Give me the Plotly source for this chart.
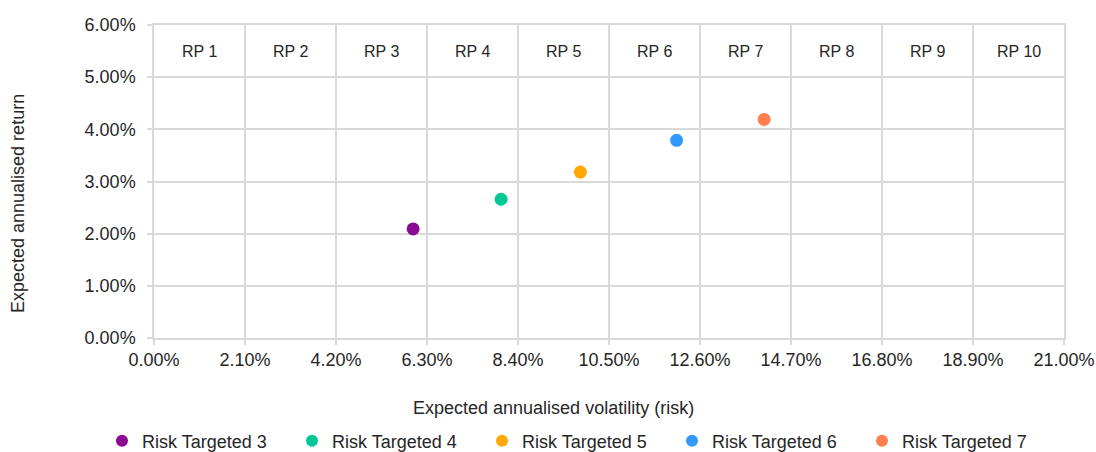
import plotly.graph_objects as go

series_names = ["Risk Targeted 3", "Risk Targeted 4", "Risk Targeted 5", "Risk Targeted 6", "Risk Targeted 7"]
volatility = [0.0598, 0.0801, 0.0984, 0.1206, 0.1408]
returns = [0.0209, 0.0266, 0.0318, 0.0379, 0.0419]
colors = ["#8B0A93", "#00C896", "#FFA800", "#3399FF", "#FF7F50"]
rp_labels = ["RP 1", "RP 2", "RP 3", "RP 4", "RP 5", "RP 6", "RP 7", "RP 8", "RP 9", "RP 10"]

FONT = "Liberation Sans, Arial, sans-serif"
TXT = "#262626"
GRID = "#D9D9D9"

W, H = 1096, 452
L, R, T, B = 154, 32, 25, 114
PW, PH = W - L - R, H - T - B

fig = go.Figure()
for name, xv, yv, c in zip(series_names, volatility, returns, colors):
    fig.add_trace(go.Scatter(x=[xv], y=[yv], mode="markers", name=name,
                             marker=dict(color=c, size=13, line=dict(width=0))))

band = 0.21 / len(rp_labels)
for i, lab in enumerate(rp_labels):
    fig.add_annotation(x=band * (i + 0.5), y=0.055, xref="x", yref="y", text=lab,
                       showarrow=False, font=dict(family=FONT, size=16, color=TXT))

fig.add_annotation(x=(553 - L) / PW, y=-(408 - (H - B)) / PH, xref="paper", yref="paper",
                   text="Expected annualised volatility (risk)", showarrow=False,
                   xanchor="center", yanchor="middle", font=dict(family=FONT, size=18, color=TXT))
fig.add_annotation(x=(18 - L) / PW, y=((H - B) - 204) / PH, xref="paper", yref="paper",
                   text="Expected annualised return", showarrow=False, textangle=-90,
                   xanchor="center", yanchor="middle", font=dict(family=FONT, size=18, color=TXT))

fig.update_layout(
    width=W, height=H,
    margin=dict(l=L, r=R, t=T, b=B, autoexpand=False),
    paper_bgcolor="white", plot_bgcolor="white",
    font=dict(family=FONT, size=18, color=TXT),
    showlegend=True,
    legend=dict(orientation="h", x=(102 - L) / PW, xanchor="left",
                y=-(441 - (H - B)) / PH, yanchor="middle",
                entrywidth=145, entrywidthmode="pixels",
                font=dict(family=FONT, size=18, color=TXT),
                itemsizing="constant", bgcolor="rgba(0,0,0,0)"),
    xaxis=dict(range=[0, 0.21], dtick=0.021, tick0=0, tickformat=".2%",
               showgrid=True, gridcolor=GRID, gridwidth=1.5,
               showline=True, linecolor=GRID, linewidth=1.5, mirror=True,
               ticks="outside", ticklen=5, tickcolor=GRID, tickwidth=1.5,
               zeroline=False, fixedrange=True, automargin=False,
               tickfont=dict(family=FONT, size=18, color=TXT)),
    yaxis=dict(range=[0, 0.06], dtick=0.01, tick0=0, tickformat=".2%",
               showgrid=True, gridcolor=GRID, gridwidth=1.5,
               showline=True, linecolor=GRID, linewidth=1.5, mirror=True,
               ticks="outside", ticklen=5, tickcolor=GRID, tickwidth=1.5,
               ticklabelstandoff=8,
               zeroline=False, fixedrange=True, automargin=False,
               tickfont=dict(family=FONT, size=18, color=TXT)),
)

fig.write_html("out.html", config={"displayModeBar": False},
               post_script="document.body.style.margin='0';document.body.style.overflow='hidden';")
